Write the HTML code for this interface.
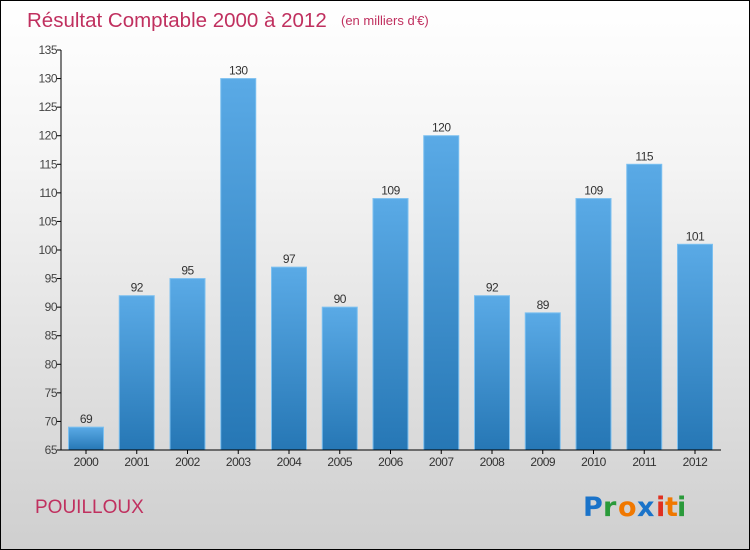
<!DOCTYPE html>
<html><head><meta charset="utf-8"><style>
html,body{margin:0;padding:0}
body{width:750px;height:550px;overflow:hidden;font-family:"Liberation Sans",sans-serif}
#frame{position:absolute;left:0;top:0;width:748px;height:548px;border:1px solid #000;background:linear-gradient(#ffffff,#f4f4f4 30%,#cfcfcf)}
</style></head><body>
<div id="frame">
<svg id="chart" width="750" height="550" style="position:absolute;left:-1px;top:-1px">
<defs><linearGradient id="bg" x1="0" y1="0" x2="0" y2="1"><stop offset="0" stop-color="#5aaae6"/><stop offset="1" stop-color="#2677b5"/></linearGradient></defs>
<text x="27" y="27" font-size="20.5" fill="#c0305f">Résultat Comptable 2000 à 2012</text>
<text x="341" y="25" font-size="13" fill="#c0305f">(en milliers d'€)</text>
<text x="35" y="513" font-size="19" fill="#c0305f">POUILLOUX</text>
<g font-size="27" font-weight="bold" font-family="'DejaVu Sans',sans-serif">
<text x="583" y="516" fill="#1a73c9">P</text><text x="603" y="516" fill="#2a9a3a">r</text><text x="618" y="516" fill="#f07800">o</text><text x="637" y="516" fill="#1a73c9">x</text><text x="656" y="516" fill="#e03020">i</text><text x="665" y="516" fill="#f07800">t</text><text x="677" y="516" fill="#2a9a3a">i</text></g>
</svg></div>
<script>
const categories=["2000","2001","2002","2003","2004","2005","2006","2007","2008","2009","2010","2011","2012"];
const values=[69,92,95,130,97,90,109,120,92,89,109,115,101];
const yTicks=[65,70,75,80,85,90,95,100,105,110,115,120,125,130,135];
const NS="http://www.w3.org/2000/svg";
const svg=document.getElementById('chart');
const y0=450,y1=50,vmin=65,vmax=135,x0=61,step=50.75,firstC=86,bw=35;
const Y=v=>y0-(v-vmin)/(vmax-vmin)*(y0-y1);
const X=i=>firstC+i*step;
function mk(t,a){const e=document.createElementNS(NS,t);for(const k in a)e.setAttribute(k,a[k]);svg.appendChild(e);return e;}
yTicks.forEach(v=>{
 const t=mk('line',{x1:x0-4,x2:x0,y1:Y(v),y2:Y(v),stroke:'#000'});
 
 
 const l=mk('text',{x:x0-4,y:Y(v)+4,'font-size':12,fill:'#444','text-anchor':'end','letter-spacing':'-0.5'});
 l.textContent=v;
 
 
});
values.forEach((v,i)=>{
 const r=mk('rect',{x:X(i)-bw/2,y:Y(v),width:bw,height:y0-Y(v),fill:'url(#bg)',stroke:'#7cc0f0','stroke-width':1});
 
 
 const t=mk('text',{x:X(i),y:Y(v)-4,'font-size':12,fill:'#333','text-anchor':'middle','letter-spacing':'-0.5'});
 t.textContent=v;
 
 
 const c=mk('text',{x:X(i),y:466,'font-size':12,fill:'#333','text-anchor':'middle','letter-spacing':'-0.5'});
 c.textContent=categories[i];
 
 
 const k=mk('line',{x1:X(i),x2:X(i),y1:y0,y2:y0+4,stroke:'#000'});
 
 
});
const ya=mk('line',{x1:x0,x2:x0,y1:y1,y2:y0,stroke:'#000'});


const xa=mk('line',{x1:x0,x2:721,y1:y0,y2:y0,stroke:'#000'});


</script>
</body></html>
